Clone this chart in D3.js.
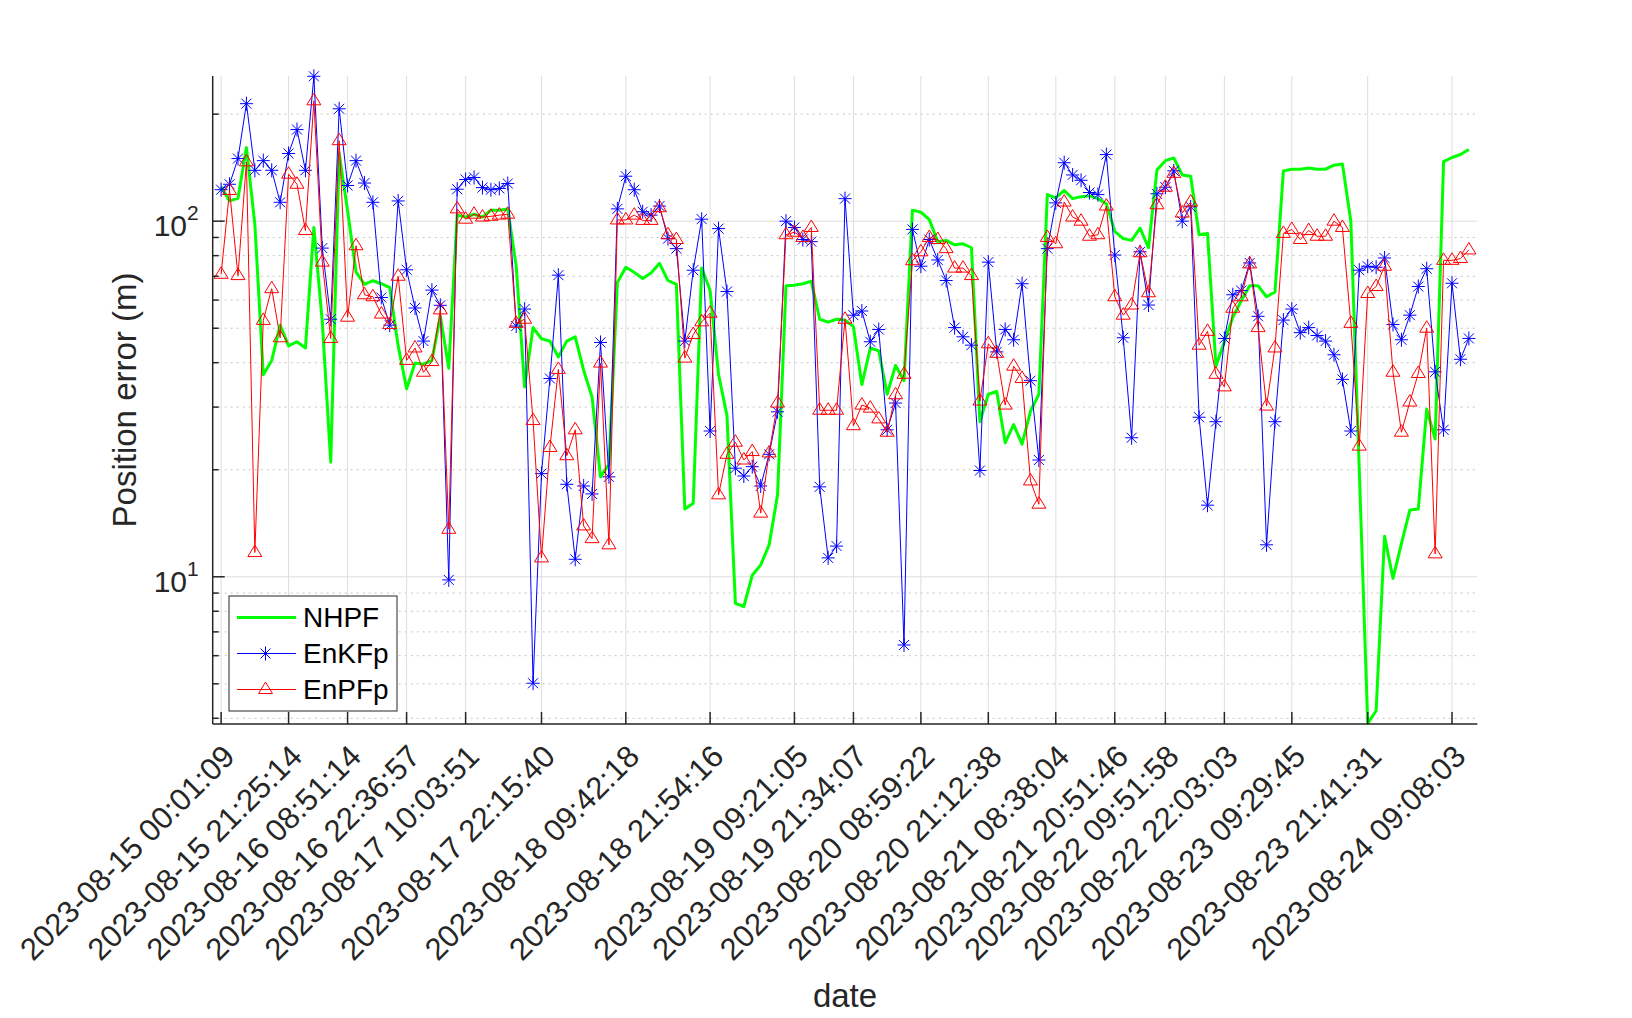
<!DOCTYPE html>
<html>
<head>
<meta charset="utf-8">
<script src="https://cdn.jsdelivr.net/npm/d3@7"></script>
<style>
  body { margin: 0; background: #ffffff; }
  svg { display: block; font-family: "Liberation Sans", Arial, Helvetica, sans-serif; }
</style>
</head>
<body>
<div id="vis"></div>
<script>
// Datos (índice de muestra 1..149)
const X_TICK_INDEX = [1, 9, 16, 23, 30, 39, 49, 59, 69, 76, 84, 92, 100, 107, 113, 120, 128, 137, 147];
const X_TICK_LABELS = [
    "2023-08-15 00:01:09", "2023-08-15 21:25:14", "2023-08-16 08:51:14", "2023-08-16 22:36:57",
    "2023-08-17 10:03:51", "2023-08-17 22:15:40", "2023-08-18 09:42:18", "2023-08-18 21:54:16",
    "2023-08-19 09:21:05", "2023-08-19 21:34:07", "2023-08-20 08:59:22", "2023-08-20 21:12:38",
    "2023-08-21 08:38:04", "2023-08-21 20:51:46", "2023-08-22 09:51:58", "2023-08-22 22:03:03",
    "2023-08-23 09:29:45", "2023-08-23 21:41:31", "2023-08-24 09:08:03"
];
const Y_TICKS = [10, 100];

const NHPF = [
    125, 114, 116, 161, 98, 37, 40.6, 51, 44.6, 45.8, 44, 96, 52, 21, 155, 107, 72, 66.4, 68, 66.7,
    65, 44.6, 33.8, 39.9, 39.6, 40.6, 54, 38.6, 104, 102.7, 104.6, 102.7, 107.4, 107.4, 108.3, 74.7, 34.2, 50.2, 46.7, 46,
    41.5, 46, 47.3, 38.1, 32, 19.1, 20.7, 67.2, 74.2, 71.8, 69, 71.5, 76.1, 68.1, 66.4, 15.5, 16.1, 73.8, 63.8, 37.1,
    28.4, 8.42, 8.25, 10.1, 10.8, 12.3, 17.0, 65.8, 66, 66.7, 67.8, 53, 52, 53, 52.7, 50.5, 34.7, 44, 43.2, 32.6,
    39.3, 35.6, 107.4, 106, 101, 87.6, 88.3, 85.8, 86.4, 84.2, 27.3, 32.6, 33.2, 23.8, 26.8, 23.6, 29.2, 32.6, 118.8, 116.3,
    122, 115.7, 117.2, 117.8, 115.7, 112, 93.6, 89.3, 88.3, 95.6, 84.2, 139.2, 148, 150.6, 134.9, 133.8, 91.6, 92.4, 39.1, 45.8,
    53.7, 59.7, 65.8, 65.8, 61.3, 63.2, 138.5, 140, 140, 141.1, 140, 140, 143.7, 144.9, 100, 20, 3.87, 4.2, 13, 9.9,
    12.4, 15.4, 15.5, 29.6, 24.4, 147, 151, 154, 159
];

const ENKFP = [
    122.6, 127, 150, 214, 139, 148, 139, 113, 155, 181, 139, 255.5, 84, 53, 207, 126, 148, 128, 113, 61,
    51, 114, 73, 57, 46, 64, 58, 9.8, 123, 131, 132.7, 124.3, 122.6, 123.6, 127.6, 50.7, 56.6, 5.02, 19.5, 36.1,
    70.5, 18.2, 11.2, 18.0, 17.1, 45.6, 19.1, 108.3, 133.8, 122.6, 106.3, 104, 110.3, 89.3, 83.7, 46.0, 72.8, 101.3, 25.7, 95.3,
    63.4, 20.2, 19.2, 20.4, 18.0, 22.1, 29.1, 100, 96, 88.8, 87.6, 17.9, 11.3, 12.2, 115.7, 54.4, 55.9, 45.8, 49.6, 25.9,
    30.8, 6.43, 94.8, 74.7, 88.8, 77.8, 68.1, 50.2, 47.3, 44.8, 19.9, 76.7, 42.9, 49.6, 46.4, 66.7, 35.6, 21.3, 83.7, 112.6,
    146, 134.9, 130.3, 120.4, 118.8, 153.9, 80.3, 47, 24.6, 82, 58.1, 119.4, 124.6, 138.5, 100, 109.7, 28.1, 15.9, 27.3, 46.8,
    62.1, 63.8, 76.3, 54, 12.3, 27.3, 52.7, 56.6, 48.6, 50.2, 47.7, 46, 42.1, 35.9, 25.7, 72.8, 74.7, 74.2, 78.8, 51.2,
    46.4, 54.4, 65.5, 73.5, 37.7, 25.9, 66.9, 40.9, 46.8
];

const ENPFP = [
    70.9, 122, 70.3, 146.8, 11.7, 52.6, 64.6, 47, 135.6, 127, 94.1, 218, 76.7, 46.8, 168.4, 53.7, 85.3, 62.1, 61.3, 54.8,
    51.2, 70, 40.6, 44, 37.6, 40.3, 56.3, 13.6, 108.3, 101.3, 104.6, 102.7, 103.2, 104, 104.6, 51.6, 53, 27.5, 11.3, 23.1,
    38.3, 21.9, 25.9, 13.9, 12.8, 39.9, 12.3, 100.8, 100.8, 104, 100.5, 100.5, 109.1, 91.6, 88.8, 41.2, 48.0, 52.1, 55.1, 17.0,
    22.1, 23.9, 21.3, 22.5, 15.1, 22.3, 30.8, 91.6, 93.1, 90, 96, 29.4, 29.4, 29.4, 53, 26.6, 30.4, 29.8, 27.8, 25.5,
    32.5, 37.1, 77.4, 82, 90, 88.8, 83.7, 73.8, 73.8, 70.3, 31.2, 45.2, 42.5, 30.4, 39.1, 36.1, 18.6, 16.0, 90, 86.4,
    113.2, 102.7, 100, 90.7, 91.6, 110.3, 61.3, 54.4, 58.1, 81.5, 62.9, 111.2, 124.6, 136.3, 105.4, 113.2, 44.8, 49, 37.1, 34.2,
    56.9, 61.3, 75.8, 50.2, 30.2, 44, 92.4, 94.8, 88.8, 94.1, 90.7, 90.7, 100, 96, 51.6, 23.3, 62.6, 65.5, 74.7, 37.6,
    25.5, 31, 37.3, 50, 11.6, 77.6, 77.6, 78.5, 83
];

// Dimensiones de la figura y del área de ejes
const WIDTH = 1632;
const HEIGHT = 1018;
const LEFT = 212.7, RIGHT = 1477.3, TOP = 76, BOTTOM = 724;
const AXIS_COLOR = "#262626";

const SVG = d3.select("#vis").append("svg")
    .attr("width", WIDTH)
    .attr("height", HEIGHT);

const x = d3.scaleLinear().domain([0, 150]).range([LEFT, RIGHT]);
const y = d3.scaleLog().domain([3.855, 256]).range([BOTTOM, TOP]);

// Ticks menores del eje logarítmico
const minorTicks = y.ticks().filter(v => !Y_TICKS.includes(v) && v >= 3.855 && v <= 256);

// Grilla
const grid = SVG.append("g");
grid.selectAll(".minor")
    .data(minorTicks)
    .enter().append("line")
    .attr("x1", LEFT).attr("x2", RIGHT)
    .attr("y1", d => y(d)).attr("y2", d => y(d))
    .attr("stroke", "#c4c4c4")
    .attr("stroke-width", 1)
    .attr("stroke-dasharray", "2,4");

grid.selectAll(".ymajor")
    .data(Y_TICKS)
    .enter().append("line")
    .attr("x1", LEFT).attr("x2", RIGHT)
    .attr("y1", d => y(d)).attr("y2", d => y(d))
    .attr("stroke", "#dedede")
    .attr("stroke-width", 1);

grid.selectAll(".xmajor")
    .data(X_TICK_INDEX)
    .enter().append("line")
    .attr("x1", d => x(d)).attr("x2", d => x(d))
    .attr("y1", TOP).attr("y2", BOTTOM)
    .attr("stroke", "#dedede")
    .attr("stroke-width", 1);

// Series
const lineGen = d3.line()
    .x((d, i) => x(i + 1))
    .y(d => y(d));

SVG.append("path")
    .datum(NHPF)
    .attr("d", lineGen)
    .attr("fill", "none")
    .attr("stroke", "#00ff00")
    .attr("stroke-width", 3)
    .attr("stroke-linejoin", "round");

const STAR = "M0,-7L0,7M-6.5,0L6.5,0M-5,-5L5,5M-5,5L5,-5";
const TRIANGLE = "M0,-7.5L7,4L-7,4Z";

SVG.append("path")
    .datum(ENKFP)
    .attr("d", lineGen)
    .attr("fill", "none")
    .attr("stroke", "#0000ff")
    .attr("stroke-width", 1);

SVG.append("g")
    .selectAll("path")
    .data(ENKFP)
    .enter().append("path")
    .attr("transform", (d, i) => `translate(${x(i + 1)},${y(d)})`)
    .attr("d", STAR)
    .attr("fill", "none")
    .attr("stroke", "#0000ff")
    .attr("stroke-width", 1);

SVG.append("path")
    .datum(ENPFP)
    .attr("d", lineGen)
    .attr("fill", "none")
    .attr("stroke", "#ff0000")
    .attr("stroke-width", 1);

SVG.append("g")
    .selectAll("path")
    .data(ENPFP)
    .enter().append("path")
    .attr("transform", (d, i) => `translate(${x(i + 1)},${y(d)})`)
    .attr("d", TRIANGLE)
    .attr("fill", "none")
    .attr("stroke", "#ff0000")
    .attr("stroke-width", 1);

// Ejes (sin caja)
const axes = SVG.append("g");
axes.append("line")
    .attr("x1", LEFT).attr("x2", LEFT)
    .attr("y1", TOP).attr("y2", BOTTOM)
    .attr("stroke", AXIS_COLOR).attr("stroke-width", 1.5);
axes.append("line")
    .attr("x1", LEFT).attr("x2", RIGHT)
    .attr("y1", BOTTOM).attr("y2", BOTTOM)
    .attr("stroke", AXIS_COLOR).attr("stroke-width", 1.5);

axes.selectAll(".ytick")
    .data(Y_TICKS)
    .enter().append("line")
    .attr("x1", LEFT).attr("x2", LEFT + 12)
    .attr("y1", d => y(d)).attr("y2", d => y(d))
    .attr("stroke", AXIS_COLOR).attr("stroke-width", 1.5);

axes.selectAll(".yminortick")
    .data(minorTicks)
    .enter().append("line")
    .attr("x1", LEFT).attr("x2", LEFT + 6)
    .attr("y1", d => y(d)).attr("y2", d => y(d))
    .attr("stroke", AXIS_COLOR).attr("stroke-width", 1.5);

axes.selectAll(".xtick")
    .data(X_TICK_INDEX)
    .enter().append("line")
    .attr("x1", d => x(d)).attr("x2", d => x(d))
    .attr("y1", BOTTOM).attr("y2", BOTTOM - 12)
    .attr("stroke", AXIS_COLOR).attr("stroke-width", 1.5);

// Etiquetas del eje Y como 10^n
const yLabels = axes.selectAll(".ylabel")
    .data(Y_TICKS)
    .enter().append("text")
    .attr("x", LEFT - 14)
    .attr("y", d => y(d) + 15)
    .attr("text-anchor", "end")
    .style("font-size", "30px")
    .attr("fill", AXIS_COLOR);
yLabels.append("tspan").text("10");
yLabels.append("tspan")
    .attr("dy", -16)
    .style("font-size", "21px")
    .text(d => Math.round(Math.log10(d)));

// Etiquetas del eje X rotadas
axes.selectAll(".xlabel")
    .data(X_TICK_INDEX)
    .enter().append("text")
    .attr("transform", d => `translate(${x(d) + 8},${BOTTOM + 27}) rotate(-45)`)
    .attr("text-anchor", "end")
    .attr("dominant-baseline", "central")
    .style("font-size", "31px")
    .attr("fill", AXIS_COLOR)
    .text((d, i) => X_TICK_LABELS[i]);

// Títulos de los ejes
SVG.append("text")
    .attr("x", (LEFT + RIGHT) / 2)
    .attr("y", 1007)
    .attr("text-anchor", "middle")
    .style("font-size", "33px")
    .attr("fill", AXIS_COLOR)
    .text("date");

SVG.append("text")
    .attr("transform", `translate(136,${(TOP + BOTTOM) / 2}) rotate(-90)`)
    .attr("text-anchor", "middle")
    .style("font-size", "33px")
    .attr("fill", AXIS_COLOR)
    .text("Position error (m)");

// Leyenda
const legendItems = [
    { name: "NHPF", color: "#00ff00", width: 3, marker: null },
    { name: "EnKFp", color: "#0000ff", width: 1, marker: STAR },
    { name: "EnPFp", color: "#ff0000", width: 1, marker: TRIANGLE }
];
const legend = SVG.append("g");
legend.append("rect")
    .attr("x", 229).attr("y", 596)
    .attr("width", 168).attr("height", 115)
    .attr("fill", "white")
    .attr("stroke", AXIS_COLOR)
    .attr("stroke-width", 1);

legendItems.forEach((item, i) => {
    const ly = 617.5 + i * 36;
    legend.append("line")
        .attr("x1", 237).attr("x2", 296)
        .attr("y1", ly).attr("y2", ly)
        .attr("stroke", item.color)
        .attr("stroke-width", item.width);
    if (item.marker) {
        legend.append("path")
            .attr("transform", `translate(265.5,${ly})`)
            .attr("d", item.marker)
            .attr("fill", "none")
            .attr("stroke", item.color)
            .attr("stroke-width", 1);
    }
    legend.append("text")
        .attr("x", 303)
        .attr("y", ly)
        .attr("dominant-baseline", "central")
        .style("font-size", "28px")
        .attr("fill", "black")
        .text(item.name);
});
</script>
</body>
</html>
